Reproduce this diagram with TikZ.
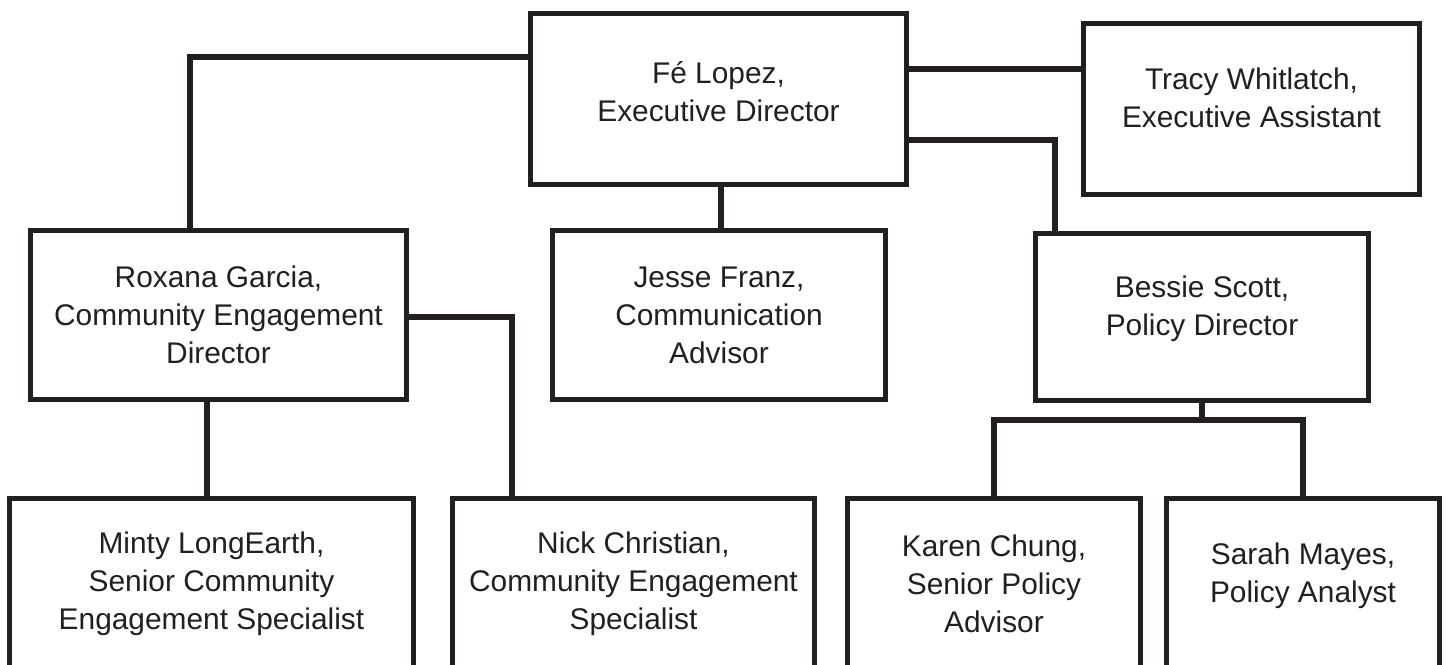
\documentclass[tikz,border=0pt]{standalone}
\usepackage{fontspec}
\setmainfont{Liberation Sans}
\usepackage{xcolor}
\usepackage{tikz}
\usetikzlibrary{positioning}
\definecolor{inkblack}{RGB}{35,31,32}

\begin{document}
\begin{tikzpicture}[x=0.02cm, y=-0.02cm,
    every node/.style={font=\fontsize{17}{21.6}\selectfont, text=inkblack},
    box/.style={draw=inkblack, line width=3.1pt, align=center, inner sep=0pt},
    link/.style={draw=inkblack, line width=3.1pt},
    lift/.style={text depth=0.45cm}]
  \useasboundingbox (0,0) rectangle (1447,665);
  \clip (0,0) rectangle (1447,665);

  % Top row
  \node[box, text depth=0.3cm, minimum width=7.52cm, minimum height=3.42cm] (fe) at (718.5,99)
    {Fé Lopez,\\Executive Director};
  \node[box, lift, minimum width=6.72cm, minimum height=3.42cm] (tracy) at (1251.5,109)
    {Tracy Whitlatch,\\Executive Assistant};

  % Directors
  \node[box, minimum width=7.52cm, minimum height=3.38cm] (roxana) at (218.5,315)
    {Roxana Garcia,\\Community Engagement\\Director};
  \node[box, minimum width=6.66cm, minimum height=3.38cm] (jesse) at (719,315)
    {Jesse Franz,\\Communication\\Advisor};
  \node[box, lift, minimum width=6.66cm, minimum height=3.34cm] (bessie) at (1202,317)
    {Bessie Scott,\\Policy Director};

  % Staff
  \node[box, minimum width=8.08cm, minimum height=3.4cm] (minty) at (211.5,583.5)
    {Minty LongEarth,\\Senior Community\\Engagement Specialist};
  \node[box, minimum width=7.24cm, minimum height=3.4cm] (nick) at (633.5,583.5)
    {Nick Christian,\\Community Engagement\\Specialist};
  \node[box, minimum width=5.86cm, minimum height=3.4cm] (karen) at (994,583.5)
    {Karen Chung,\\Senior Policy\\Advisor};
  \node[box, lift, minimum width=5.46cm, minimum height=3.4cm] (sarah) at (1303,583.5)
    {Sarah Mayes,\\Policy Analyst};

  % Connectors
  \draw[link] (fe.west |- 0,57) -| (190,0 |- roxana.north);
  \draw[link] (fe.east |- 0,69) -- (tracy.west |- 0,69);
  \draw[link] (fe.east |- 0,140) -| (1055,0 |- bessie.north);
  \draw[link] (721,0 |- fe.south) -- (721,0 |- jesse.north);
  \draw[link] (207,0 |- roxana.south) -- (207,0 |- minty.north);
  \draw[link] (roxana.east |- 0,317) -| (512,0 |- nick.north);
  \draw[link] (bessie.south) -- ++(0,17) coordinate (split);
  \draw[link] (split) -| (karen.north);
  \draw[link] (split) -| (sarah.north);
\end{tikzpicture}
\end{document}
